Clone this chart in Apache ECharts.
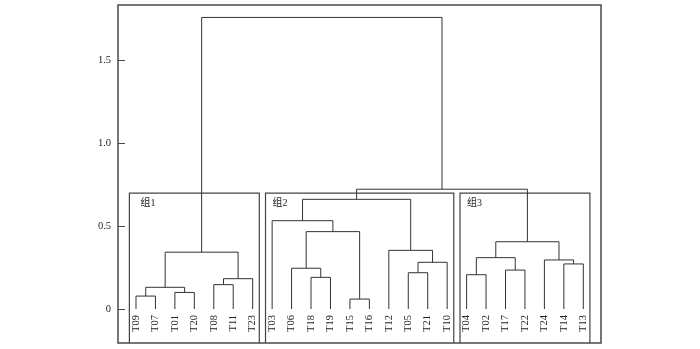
<!DOCTYPE html>
<html>
<head>
<meta charset="utf-8">
<script src="https://cdn.jsdelivr.net/npm/echarts@6/dist/echarts.min.js"></script>
<style>html,body{margin:0;padding:0;background:#fff}#c{width:700px;height:349px}</style>
</head>
<body>
<div id="c"></div>
<script>
// Leaf order along the x axis
const leaves = ['T09','T07','T01','T20','T08','T11','T23',
                'T03','T06','T18','T19','T15','T16','T12','T05','T21','T10',
                'T04','T02','T17','T22','T24','T14','T13'];
// Merges: [left child, right child, height]; children are leaf names or 'm<index>'
const merges = [
  ['T09','T07',0.078],  // m0
  ['T01','T20',0.100],  // m1
  ['m0','m1',0.131],    // m2
  ['T08','T11',0.147],  // m3
  ['m3','T23',0.183],   // m4
  ['m2','m4',0.343],    // m5
  ['T18','T19',0.191],  // m6
  ['T06','m6',0.246],   // m7
  ['T15','T16',0.060],  // m8
  ['m7','m8',0.467],    // m9
  ['T03','m9',0.533],   // m10
  ['T05','T21',0.219],  // m11
  ['m11','T10',0.282],  // m12
  ['T12','m12',0.354],  // m13
  ['m10','m13',0.662],  // m14
  ['T04','T02',0.207],  // m15
  ['T17','T22',0.235],  // m16
  ['m15','m16',0.310],  // m17
  ['T14','T13',0.272],  // m18
  ['T24','m18',0.296],  // m19
  ['m17','m19',0.406],  // m20
  ['m14','m20',0.723],  // m21
  ['m5','m21',1.760]    // m22
];
// Groups (boxes)
const groupNames = ['组1','组2','组3'];
const groupSizes = [7,10,7];
const groupBoxTop = 0.70;
// Y axis ticks
const yTickValues = [0, 0.5, 1.0, 1.5];
const yTickLabels = ['0', '0.5', '1.0', '1.5'];

// --- build geometry from data ---
const pos = {};
leaves.forEach((n,i)=>{ pos[n] = {x:i, y:0}; });
const links = [];
merges.forEach((m,k)=>{
  const a = pos[m[0]], b = pos[m[1]], h = m[2];
  links.push([a.x, a.y, b.x, b.y, h]);
  pos['m'+k] = {x:(a.x+b.x)/2, y:h};
});
const boxes = [];
let start = 0;
groupSizes.forEach((s,g)=>{
  boxes.push([start, start+s-1, groupBoxTop, g]);
  start += s;
});

const X_MIN = -0.925, X_MAX = 23.91, Y_MIN = -0.2052, Y_MAX = 1.835;
const SERIF = "'Liberation Serif','Times New Roman','Noto Sans CJK SC',serif";
const LINE = '#333';

const chart = echarts.init(document.getElementById('c'), null, {renderer:'canvas'});
chart.setOption({
  animation: false,
  backgroundColor: '#fff',
  grid: {left:118, right:99, top:5, bottom:6, show:true, borderColor:'#4a4a4a', borderWidth:1.5, backgroundColor:'transparent'},
  xAxis: {type:'value', min:X_MIN, max:X_MAX, show:true,
    axisLine:{show:false, onZero:false}, axisTick:{show:false}, axisLabel:{show:false}, splitLine:{show:false}},
  yAxis: {type:'value', min:Y_MIN, max:Y_MAX, position:'left',
    axisLine:{show:false, onZero:false}, splitLine:{show:false},
    axisTick:{show:true, inside:true, length:7, customValues:yTickValues, lineStyle:{color:'#4a4a4a', width:1}},
    axisLabel:{show:true, margin:7, customValues:yTickValues, color:'#222', fontFamily:SERIF, fontSize:10.5,
      formatter:(v)=>{ const i = yTickValues.findIndex(t=>Math.abs(t-v)<1e-9); return i>=0 ? yTickLabels[i] : ''; }}
  },
  series: [
    {
      type:'custom', silent:true, clip:false,
      data: boxes,
      renderItem:(params, api)=>{
        const x0 = api.value(0)-0.34, x1 = api.value(1)+0.34, top = api.value(2);
        const g = api.value(3);
        const p1 = api.coord([x0, Y_MIN]), p2 = api.coord([x0, top]), p3 = api.coord([x1, top]), p4 = api.coord([x1, Y_MIN]);
        return {type:'group', children:[
          {type:'polyline', shape:{points:[p1,p2,p3,p4]}, style:{stroke:'#444', lineWidth:1.2, fill:null}},
          {type:'text', x:p2[0]+(g===0?11:7), y:p2[1]+10,
            style:{text:groupNames[g], fill:'#222', font:'10px '+SERIF, align:'left', verticalAlign:'middle'}}
        ]};
      }
    },
    {
      type:'custom', silent:true, clip:false,
      data: links,
      renderItem:(params, api)=>{
        const pa = api.coord([api.value(0), api.value(1)]);
        const pa2 = api.coord([api.value(0), api.value(4)]);
        const pb2 = api.coord([api.value(2), api.value(4)]);
        const pb = api.coord([api.value(2), api.value(3)]);
        return {type:'polyline', shape:{points:[pa,pa2,pb2,pb]}, style:{stroke:LINE, lineWidth:1, fill:null}};
      }
    },
    {
      type:'custom', silent:true, clip:false,
      data: leaves.map((n,i)=>[i,0]),
      renderItem:(params, api)=>{
        const p = api.coord([api.value(0), api.value(1)]);
        return {type:'text', x:p[0], y:p[1]+6, rotation:Math.PI/2,
          style:{text:leaves[params.dataIndex], fill:'#222', font:'10.5px '+SERIF, align:'right', verticalAlign:'middle'}};
      }
    }
  ]
});
</script>
</body>
</html>
